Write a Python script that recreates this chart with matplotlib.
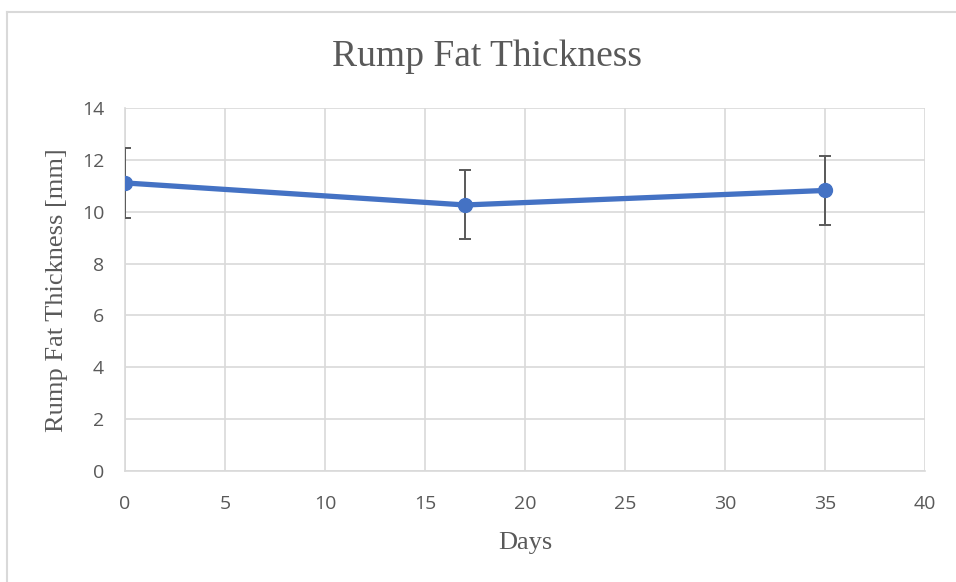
import matplotlib
matplotlib.use("Agg")
import matplotlib.pyplot as plt
from matplotlib.lines import Line2D

days = [0, 17, 35]
thickness = [11.11, 10.26, 10.82]
errors = [1.35, 1.33, 1.34]
x_ticks = [0, 5, 10, 15, 20, 25, 30, 35, 40]
y_ticks = [0, 2, 4, 6, 8, 10, 12, 14]

W, H = 956, 582
fig = plt.figure(figsize=(W / 100, H / 100), dpi=100)
ax = fig.add_axes([125 / W, 1 - 471 / H, 800 / W, 363 / H])

grid_c = "#d9d9d9"
text_c = "#595959"

ax.errorbar(days, thickness, yerr=errors, fmt="none", ecolor="#595959",
            elinewidth=1.4, capsize=4, capthick=1.4, zorder=3)
ax.plot(days, thickness, color="#4472C4", lw=3.8, marker="o", ms=10,
        markerfacecolor="#4472C4", markeredgecolor="#4472C4", zorder=4,
        solid_capstyle="round")

ax.set_xlim(0, 40)
ax.set_ylim(0, 14)
ax.set_xticks(x_ticks)
ax.set_yticks(y_ticks)
ax.grid(True, color=grid_c, lw=1.2)
ax.set_axisbelow(True)
for s in ["top", "right"]:
    ax.spines[s].set_visible(False)
for s in ["left", "bottom"]:
    ax.spines[s].set_color(grid_c)
    ax.spines[s].set_linewidth(1.2)
ax.tick_params(axis="x", length=0, labelsize=14, colors=text_c, pad=17)
ax.tick_params(axis="y", length=0, labelsize=14, colors=text_c, pad=15)
for lab in ax.get_xticklabels() + ax.get_yticklabels():
    lab.set_fontfamily("Open Sans")

serif = "Liberation Serif"
fig.text(487 / W, 1 - 57 / H, "Rump Fat Thickness", ha="center", va="center",
         fontsize=27, family=serif, color=text_c)
fig.text(57 / W, 1 - 290 / H, "Rump Fat Thickness [mm]", ha="center", va="center",
         rotation=90, fontsize=19, family=serif, color=text_c)
fig.text(525 / W, 1 - 543 / H, "Days", ha="center", va="center",
         fontsize=19, family=serif, color=text_c)

fig.add_artist(Line2D([7 / W, 1], [1 - 12 / H, 1 - 12 / H], transform=fig.transFigure,
                      color=grid_c, lw=1.5))
fig.add_artist(Line2D([7 / W, 7 / W], [0, 1 - 12 / H], transform=fig.transFigure,
                      color=grid_c, lw=1.5))

fig.savefig("out.png", dpi=100)
